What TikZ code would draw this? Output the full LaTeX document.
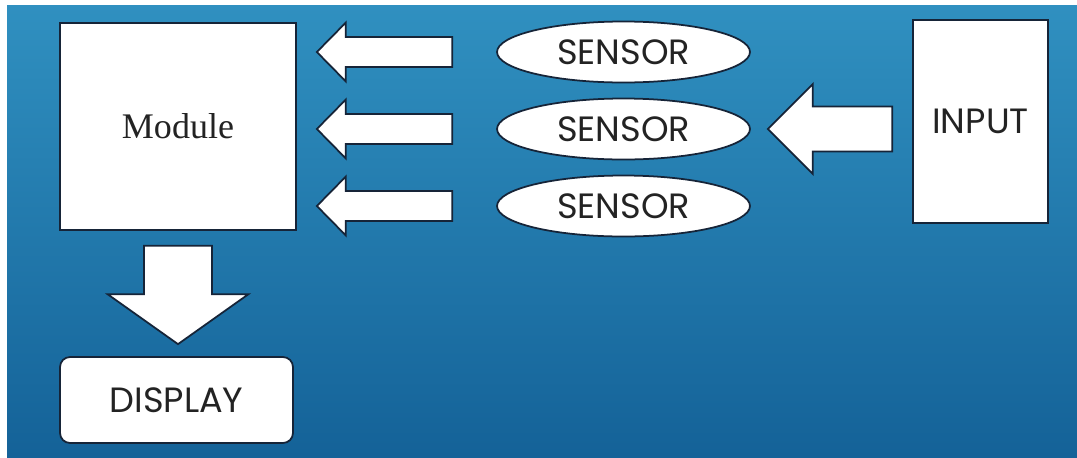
\documentclass[tikz,border=0pt]{standalone}
\usepackage{fontspec}
\setmainfont{Liberation Serif}
\newfontfamily\gothic{Poppins}
\usetikzlibrary{shapes.geometric,calc,positioning}

\definecolor{bgtop}{RGB}{48,144,192}
\definecolor{bgbot}{RGB}{20,98,152}
\definecolor{edge}{RGB}{22,36,56}
\definecolor{ink}{RGB}{35,35,35}

\tikzset{
  box/.style={draw=edge, line width=1pt, fill=white, text=ink, inner sep=0pt},
  label/.style={font=\gothic\fontsize{20}{22}\selectfont},
  sensor/.style={box, label, ellipse, minimum width=5.06cm, minimum height=1.22cm},
  fat/.style={draw=edge, line width=1pt, fill=white, line join=miter}
}

% block arrow: tail, tip, half shaft, half head, head length
\newcommand\fatarrow[5]{%
  \coordinate (hb) at ($(#2)!#5!(#1)$);
  \draw[fat] ($(#1)!#3!90:(#2)$) -- ($(hb)!#3!90:(#2)$) -- ($(hb)!#4!90:(#2)$)
    -- (#2) -- ($(hb)!#4!-90:(#2)$) -- ($(hb)!#3!-90:(#2)$) -- ($(#1)!#3!-90:(#2)$) -- cycle;
}

\begin{document}
\begin{tikzpicture}[x=0.02cm, y=-0.02cm]
    \useasboundingbox (0,0) rectangle (1077,457);
    \shade[top color=bgtop, bottom color=bgbot] (7,5) rectangle (1077,457);

    \node [box, minimum width=4.72cm, minimum height=4.14cm, font=\fontsize{20.5}{22}\selectfont] (mod) at (178,126.5) {Module};
    \node [sensor] (s1) at (623.5,52) {SENSOR};
    \node [sensor] (s2) at (623.5,129) {SENSOR};
    \node [sensor] (s3) at (623.5,206) {SENSOR};
    \node [box, label, minimum width=2.7cm, minimum height=4.06cm] (inp) at (980.5,121.5) {INPUT};
    \node [box, label, rounded corners=0.2cm, minimum width=4.66cm, minimum height=1.72cm] (disp) at (176.5,400) {DISPLAY};

    \coordinate (a1s) at ([xshift=-0.88cm]s1.west);
    \coordinate (a1e) at ([xshift=0.4cm]mod.east |- s1.west);
    \coordinate (a2s) at ([xshift=-0.88cm]s2.west);
    \coordinate (a2e) at ([xshift=0.4cm]mod.east |- s2.west);
    \coordinate (a3s) at ([xshift=-0.88cm]s3.west);
    \coordinate (a3e) at ([xshift=0.4cm]mod.east |- s3.west);
    \coordinate (bs) at ([xshift=-0.4cm]inp.west |- s2.east);
    \coordinate (be) at ([xshift=0.34cm]s2.east);
    \coordinate (ds) at ([yshift=-0.3cm]mod.south);
    \coordinate (de) at ([yshift=0.24cm]ds |- disp.north);

    \fatarrow{a1s}{a1e}{0.3cm}{0.59cm}{0.58cm}
    \fatarrow{a2s}{a2e}{0.3cm}{0.59cm}{0.58cm}
    \fatarrow{a3s}{a3e}{0.3cm}{0.59cm}{0.58cm}
    \fatarrow{bs}{be}{0.45cm}{0.9cm}{0.9cm}
    \fatarrow{ds}{de}{0.68cm}{1.41cm}{1cm}
\end{tikzpicture}
\end{document}
